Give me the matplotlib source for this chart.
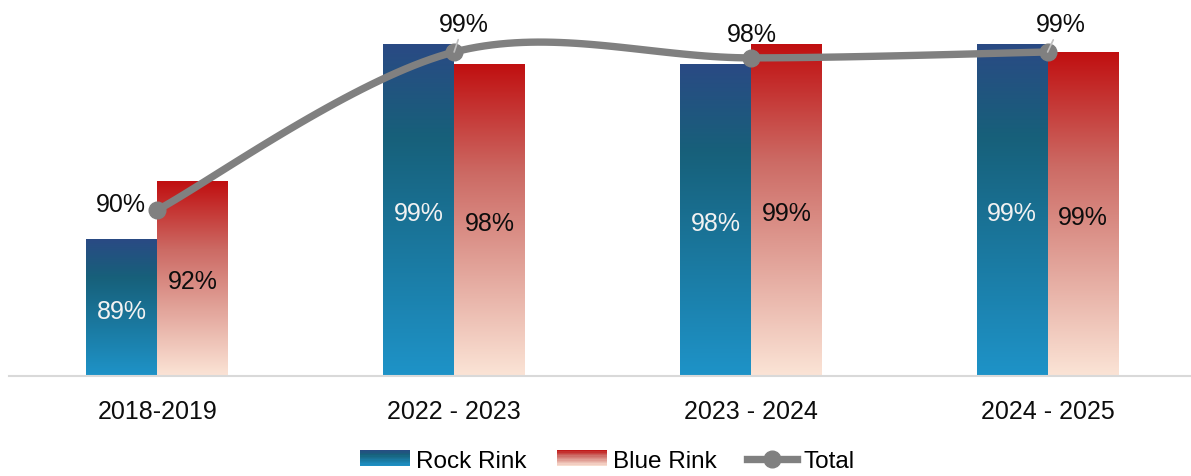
import numpy as np
import matplotlib
matplotlib.use("Agg")
import matplotlib.pyplot as plt
from matplotlib.colors import LinearSegmentedColormap
from matplotlib.patches import Rectangle
from matplotlib.lines import Line2D
from matplotlib.legend_handler import HandlerBase

plt.rcParams['font.family'] = ['Liberation Sans', 'DejaVu Sans']

# data
seasons = ['2018-2019', '2022 - 2023', '2023 - 2024', '2024 - 2025']
rock_rink = [0.89, 0.99, 0.98, 0.99]
blue_rink = [0.92, 0.98, 0.99, 0.986]
total = [0.905, 0.986, 0.983, 0.986]

rock_cmap = LinearSegmentedColormap.from_list(
    'rock', [(0.0, '#2a4a84'), (0.28, '#17607a'), (1.0, '#1e93c8')])
blue_cmap = LinearSegmentedColormap.from_list(
    'blue', [(0.0, '#c00f10'), (0.35, '#cc6a64'), (1.0, '#fbe4d6')])

YMIN, YMAX = 0.82, 1.0
W = 0.239
LINE_COLOR = '#808080'
FS = 18


def smooth_curve(xs, ys, n=40):
    """Catmull-Rom style smoothing (like a spreadsheet 'smoothed line')."""
    xs = np.asarray(xs, float)
    ys = np.asarray(ys, float)
    px = np.concatenate([[xs[0]], xs, [xs[-1]]])
    py = np.concatenate([[ys[0]], ys, [ys[-1]]])
    out_x, out_y = [], []
    t = np.linspace(0, 1, n)
    for i in range(1, len(px) - 2):
        p0x, p1x, p2x, p3x = px[i - 1], px[i], px[i + 1], px[i + 2]
        p0y, p1y, p2y, p3y = py[i - 1], py[i], py[i + 1], py[i + 2]
        c1x, c1y = p1x + (p2x - p0x) / 6, p1y + (p2y - p0y) / 6
        c2x, c2y = p2x - (p3x - p1x) / 6, p2y - (p3y - p1y) / 6
        bx = (1 - t) ** 3 * p1x + 3 * (1 - t) ** 2 * t * c1x + 3 * (1 - t) * t ** 2 * c2x + t ** 3 * p2x
        by = (1 - t) ** 3 * p1y + 3 * (1 - t) ** 2 * t * c1y + 3 * (1 - t) * t ** 2 * c2y + t ** 3 * p2y
        out_x.extend(bx)
        out_y.extend(by)
    return np.array(out_x), np.array(out_y)


class GradientHandler(HandlerBase):
    def __init__(self, cmap):
        super().__init__()
        self.cmap = cmap

    def create_artists(self, legend, orig_handle, xdescent, ydescent,
                       width, height, fontsize, trans):
        strips = []
        n = 12
        h = height / n
        for k in range(n):
            r = Rectangle((-xdescent, -ydescent + height - (k + 1) * h), width, h + 0.3,
                          facecolor=self.cmap((k + 0.5) / n), edgecolor='none',
                          transform=trans)
            strips.append(r)
        return strips


fig = plt.figure(figsize=(11.91, 4.77), dpi=100)
ax = fig.add_axes([9 / 1191, 100.3 / 477, 1187 / 1191, 0.7358])

x = np.arange(len(seasons))
grad = np.linspace(0, 1, 256).reshape(-1, 1)

rock_bars = ax.bar(x - W / 2, rock_rink, W, color='none', edgecolor='none')
blue_bars = ax.bar(x + W / 2, blue_rink, W, color='none', edgecolor='none')

for bars, cmap in ((rock_bars, rock_cmap), (blue_bars, blue_cmap)):
    for b in bars:
        x0 = b.get_x()
        top = b.get_height()
        ax.imshow(grad, cmap=cmap, aspect='auto', origin='upper',
                  extent=[x0, x0 + b.get_width(), YMIN, top], zorder=1)

# bar labels
for i in range(len(seasons)):
    ax.annotate(f'{rock_rink[i]:.0%}', (x[i] - W / 2, (YMIN + rock_rink[i]) / 2),
                xytext=(0, -2.2), textcoords='offset points',
                ha='center', va='center', fontsize=FS, color='#f2f2f2', zorder=3)
    ax.annotate(f'{blue_rink[i]:.0%}', (x[i] + W / 2, (YMIN + blue_rink[i]) / 2),
                xytext=(0, -2.2), textcoords='offset points',
                ha='center', va='center', fontsize=FS, color='#0d0d0d', zorder=3)

# smoothed total line
sx, sy = smooth_curve(x, total)
ax.plot(sx, sy, color=LINE_COLOR, lw=5.3, solid_capstyle='round', zorder=4)
ax.plot(x, total, 'o', color=LINE_COLOR, ms=12, zorder=5)

# total labels
offsets = [(-26.6, 4.0), (6.8, 20.5), (1.0, 17.0), (9.4, 20.3)]
leaders = [False, True, False, True]
for i, v in enumerate(total):
    kw = {}
    if leaders[i]:
        kw['arrowprops'] = dict(arrowstyle='-', color='#bfbfbf', lw=1.2,
                                shrinkA=1, shrinkB=0)
    ax.annotate(f'{v:.0%}', (x[i], v), xytext=offsets[i], textcoords='offset points',
                ha='center', va='center', fontsize=FS, color='#0d0d0d', zorder=6, **kw)

ax.set_xlim(-0.5, len(seasons) - 0.5)
ax.set_ylim(YMIN, YMAX)
ax.set_xticks(x)
ax.set_xticklabels(seasons, fontsize=FS, color='#0d0d0d')
ax.tick_params(axis='x', length=0, pad=17)
ax.set_yticks([])
for s in ('top', 'right', 'left'):
    ax.spines[s].set_visible(False)
ax.spines['bottom'].set_color('#d9d9d9')
ax.spines['bottom'].set_linewidth(1.5)
ax.spines['bottom'].set_zorder(2)

h_rock = Rectangle((0, 0), 1, 1)
h_blue = Rectangle((0, 0), 1, 1)
h_total = Line2D([], [], color=LINE_COLOR, lw=5.3, marker='o', ms=12)
fig.legend([h_rock, h_blue, h_total], ['Rock Rink', 'Blue Rink', 'Total'],
           handler_map={h_rock: GradientHandler(rock_cmap),
                        h_blue: GradientHandler(blue_cmap)},
           loc='center', bbox_to_anchor=(0.51, 1 - 462 / 477), ncol=3,
           frameon=False, fontsize=17.5, handlelength=2.05, handletextpad=0.25,
           columnspacing=1.25, handleheight=0.62, borderpad=0)

fig.savefig('out.png', dpi=100)
